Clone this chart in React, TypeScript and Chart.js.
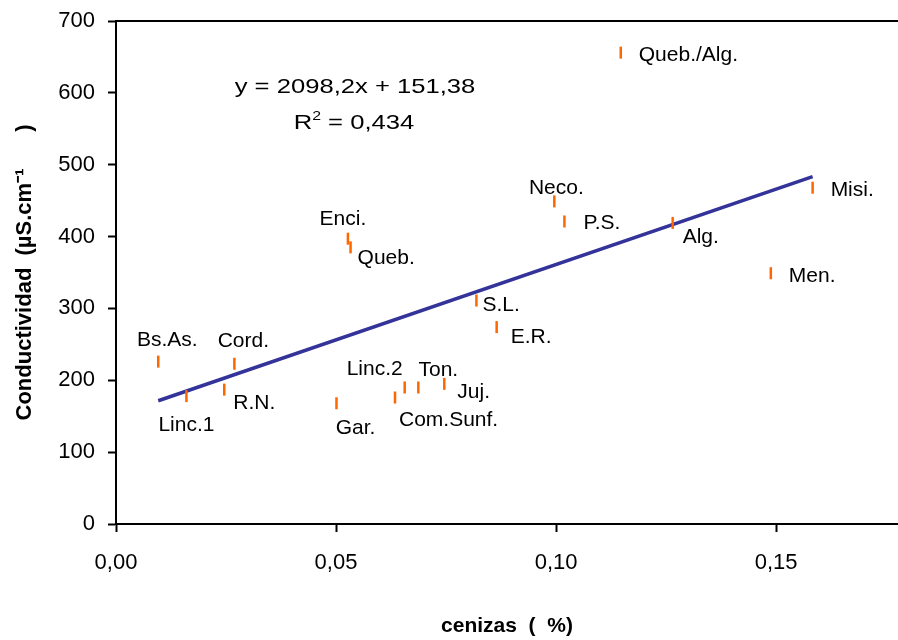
import React, { useEffect, useRef } from 'react';
import { Chart, registerables } from 'chart.js';

Chart.register(...registerables);

// ---- data ----
const sampleLabels = [
  'Bs.As.', 'Linc.1', 'R.N.', 'Cord.', 'Gar.', 'Com.Sunf.', 'Linc.2', 'Ton.', 'Juj.',
  'Enci.', 'Queb.', 'S.L.', 'E.R.', 'Neco.', 'P.S.', 'Queb./Alg.', 'Alg.', 'Men.', 'Misi.',
];
const cenizas = [
  0.0096, 0.0160, 0.0246, 0.0269, 0.0501, 0.0634, 0.0656, 0.0687, 0.0746,
  0.0527, 0.0533, 0.0819, 0.0865, 0.0996, 0.1019, 0.1147, 0.1265, 0.1488, 0.1583,
];
const conductividad = [
  226, 178, 187, 223, 168, 176, 190, 190, 195,
  397, 385, 311, 274, 449, 421, 656, 419, 349, 468,
];
const yTicks = [0, 100, 200, 300, 400, 500, 600, 700];
const xTicks = [0, 0.05, 0.1, 0.15];
const slope = 2098.2;
const intercept = 151.38;
const rSquared = 0.434;

// label placement (layout only): [dx, dy to text middle, align]
const labelPlacement: [number, number, CanvasTextAlign][] = [
  [9, -23, 'center'],
  [0, 27, 'center'],
  [9, 12, 'left'],
  [9, -24, 'center'],
  [19, 23, 'center'],
  [4, 21, 'left'],
  [-30, -20, 'center'],
  [20, -19, 'center'],
  [13, 7, 'left'],
  [-5, -21, 'center'],
  [7, 9, 'left'],
  [6, 3, 'left'],
  [14, 8, 'left'],
  [2, -15, 'center'],
  [19, 0, 'left'],
  [18, 1, 'left'],
  [10, 13, 'left'],
  [18, 1, 'left'],
  [18, 1, 'left'],
];

const fmt = (v: number, d: number) => v.toFixed(d).replace('.', ',');
const FONT = '"Liberation Sans", Arial, Helvetica, sans-serif';

const annotPlugin = {
  id: 'annot',
  afterDraw(chart: any) {
    const { ctx, chartArea } = chart;
    const { left, right, top } = chartArea;
    ctx.save();
    // top border of plot area
    ctx.strokeStyle = '#000';
    ctx.lineWidth = 2;
    ctx.beginPath();
    ctx.moveTo(left - 1, top);
    ctx.lineTo(right, top);
    ctx.stroke();

    // point labels
    const meta = chart.getDatasetMeta(0);
    ctx.fillStyle = '#000';
    ctx.font = `21px ${FONT}`;
    ctx.textBaseline = 'alphabetic';
    meta.data.forEach((pt: any, i: number) => {
      const [dx, dy, align] = labelPlacement[i];
      ctx.textAlign = align;
      ctx.fillText(sampleLabels[i], pt.x + dx, pt.y + dy + 7.5);
    });

    // equation
    const sx = 1.22;
    const cx = left + 239;
    ctx.textAlign = 'left';
    const eq = `y = ${fmt(slope, 1)}x + ${fmt(intercept, 2)}`;
    ctx.font = `21px ${FONT}`;
    const eqW = ctx.measureText(eq).width * sx;
    ctx.save();
    ctx.translate(cx - eqW / 2, top + 71.5);
    ctx.scale(sx, 1);
    ctx.fillText(eq, 0, 0);
    ctx.restore();

    // R^2 line
    const rest = ` = ${fmt(rSquared, 3)}`;
    ctx.font = `21px ${FONT}`;
    const wR = ctx.measureText('R').width;
    const wRest = ctx.measureText(rest).width;
    ctx.font = `13px ${FONT}`;
    const w2 = ctx.measureText('2').width;
    const total = (wR + w2 + wRest) * sx;
    ctx.save();
    ctx.translate(cx - 1 - total / 2, top + 108);
    ctx.scale(sx, 1);
    ctx.font = `21px ${FONT}`;
    ctx.fillText('R', 0, 0);
    ctx.font = `13px ${FONT}`;
    ctx.fillText('2', wR, -9);
    ctx.font = `21px ${FONT}`;
    ctx.fillText(rest, wR + w2, 0);
    ctx.restore();

    ctx.restore();
  },
};

export default function App() {
  const ref = useRef<HTMLCanvasElement>(null);

  useEffect(() => {
    if (!ref.current) return;
    const points = cenizas.map((x, i) => ({ x, y: conductividad[i] }));
    const xMin = Math.min(...cenizas);
    const xMax = Math.max(...cenizas);
    const trend = [
      { x: xMin, y: slope * xMin + intercept },
      { x: xMax, y: slope * xMax + intercept },
    ];
    const chart = new Chart(ref.current, {
      type: 'scatter',
      data: {
        datasets: [
          {
            type: 'scatter',
            data: points,
            pointStyle: 'line',
            rotation: 90,
            radius: 6,
            hoverRadius: 6,
            borderWidth: 2.5,
            borderColor: '#FF6600',
            backgroundColor: '#FF6600',
          } as any,
          {
            type: 'line',
            data: trend,
            borderColor: '#333399',
            borderWidth: 3.5,
            pointRadius: 0,
            fill: false,
          } as any,
        ],
      },
      options: {
        animation: false,
        responsive: false,
        devicePixelRatio: 1,
        layout: { autoPadding: false, padding: { top: 21, right: 0, left: 0, bottom: 0 } },
        plugins: {
          legend: { display: false },
          tooltip: { enabled: false },
        },
        scales: {
          x: {
            type: 'linear',
            min: 0,
            max: 0.1777,
            afterFit: (s: any) => {
              s.height = 116;
              s.paddingLeft = 0;
              s.paddingRight = 0;
              s.paddingTop = 0;
              s.paddingBottom = 0;
            },
            afterBuildTicks: (s: any) => { s.ticks = xTicks.map((v) => ({ value: v })); },
            ticks: {
              includeBounds: false,
              padding: 18,
              color: '#000',
              font: { family: FONT, size: 22 },
              callback: (v: any) => fmt(Number(v), 2),
              maxRotation: 0,
            },
            grid: {
              drawOnChartArea: false,
              drawTicks: true,
              tickLength: 8,
              tickWidth: 2,
              tickColor: '#000',
              color: '#000',
            },
            border: { display: true, color: '#000', width: 2 },
            title: {
              display: true,
              text: 'cenizas  (  %)',
              color: '#000',
              font: { family: FONT, size: 21, weight: 'bold' },
              padding: { top: 0, bottom: 1 },
            },
          },
          y: {
            type: 'linear',
            min: 0,
            max: 700,
            afterFit: (s: any) => {
              s.width = 116;
              s.paddingLeft = 0;
              s.paddingRight = 0;
              s.paddingTop = 0;
              s.paddingBottom = 0;
            },
            afterBuildTicks: (s: any) => { s.ticks = yTicks.map((v) => ({ value: v })); },
            ticks: {
              padding: 13,
              color: '#000',
              font: { family: FONT, size: 22 },
              callback: (v: any) => String(v),
            },
            grid: {
              drawOnChartArea: false,
              drawTicks: true,
              tickLength: 8,
              tickWidth: 2,
              tickColor: '#000',
              color: '#000',
            },
            border: { display: true, color: '#000', width: 2 },
            title: {
              display: true,
              text: 'Conductividad  (µS.cm⁻¹      )',
              color: '#000',
              font: { family: FONT, size: 22, weight: 'bold' },
              padding: { top: 12, bottom: 0 },
            },
          },
        },
      },
      plugins: [annotPlugin],
    });
    return () => chart.destroy();
  }, []);

  return (
    <div style={{ position: 'absolute', left: 0, top: 0, width: 898, height: 640, background: '#fff' }}>
      <canvas ref={ref} width={898} height={640} style={{ display: 'block', width: 898, height: 640 }} />
    </div>
  );
}
